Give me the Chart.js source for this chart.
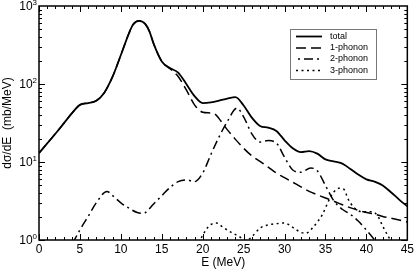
<!DOCTYPE html>
<html>
<head>
<meta charset="utf-8">
<script src="https://cdn.jsdelivr.net/npm/chart.js@4/dist/chart.umd.min.js"></script>
<style>
  body { margin: 0; background: #fff; }
</style>
</head>
<body>
<canvas id="xsChart" width="416" height="270"></canvas>
<script>
// energies (MeV) and cross sections (mb/MeV)
const totalE = [0, 1, 2, 3, 4, 5, 6, 7, 8, 9, 10, 11, 11.5, 12.25, 13, 13.5, 14, 15, 16, 17, 18, 19, 20, 21, 22, 23, 24, 25, 26, 27, 28, 29, 30, 31, 32, 33, 34, 35, 36, 37, 38, 39, 40, 41, 42, 43, 44, 45];
const totalY = [13, 17.3, 23, 31, 42, 54, 57, 61, 78, 125, 235, 450, 580, 645, 585, 470, 330, 195, 160, 140, 100, 70, 57, 58, 61, 65, 68, 53, 37, 29, 27.5, 25, 19, 15, 13.4, 13.8, 12.8, 10.8, 10.2, 9.6, 8.2, 6.9, 6.0, 5.6, 5.0, 4.1, 3.3, 2.7];

const onePhE = [0, 1, 2, 3, 4, 5, 6, 7, 8, 9, 10, 11, 11.5, 12.25, 13, 13.5, 14, 15, 16, 17, 18, 19, 20, 21, 21.5, 22, 23, 24, 25, 26, 27, 28, 29, 30, 31, 32, 33, 34, 35, 36, 37, 38, 39, 40, 41, 42, 43, 44, 45];
const onePhY = [13, 17.3, 23, 31, 42, 54, 57, 61, 78, 125, 235, 450, 580, 645, 585, 470, 330, 195, 157, 125, 84, 54, 43.5, 42.5, 41, 36, 26, 19.5, 15, 12, 10.2, 8.6, 7.2, 6.3, 5.5, 4.8, 4.2, 3.8, 3.45, 3.15, 2.85, 2.6, 2.4, 2.25, 2.15, 2.0, 1.9, 1.8, 1.7];

const twoPhE = [4.1, 5, 6, 7, 8.3, 9, 10, 11, 12, 12.7, 13, 14, 15, 16, 17, 18, 19, 20, 21, 22, 23, 24.2, 25, 26, 27, 28, 29, 30, 31, 32, 33.2, 34, 35, 36, 37, 38, 39, 40, 41, 41.5];
const twoPhY = [0.9, 1.35, 2.0, 3.0, 4.2, 3.7, 3.0, 2.55, 2.25, 2.2, 2.25, 2.9, 3.7, 4.7, 5.6, 5.9, 5.6, 7.2, 12.5, 21, 33, 49, 38, 23, 18, 18.8, 17.5, 11.5, 7.9, 7.4, 8.4, 7.7, 5.0, 3.2, 2.5, 2.15, 1.75, 1.34, 1.0, 0.85];

const threePhE = [19.5, 20, 20.5, 21, 21.7, 22.5, 23.5, 24.5, 25.3, 26, 27, 28, 29, 30, 31, 32, 32.6, 33.4, 34, 34.6, 35.4, 36, 36.6, 37.2, 37.8, 38.5, 39.5, 40.5, 41.3, 42, 42.7, 43.2];
const threePhY = [0.92, 1.15, 1.4, 1.58, 1.65, 1.45, 1.25, 1.1, 0.98, 1.1, 1.42, 1.56, 1.62, 1.65, 1.45, 1.25, 1.22, 1.42, 1.7, 2.1, 3.2, 4.1, 4.6, 4.5, 3.3, 2.6, 2.3, 2.3, 2.1, 1.5, 1.1, 0.9];

const seriesNames = ['total', '1-phonon', '2-phonon', '3-phonon'];
const yTickValues = [1, 10, 100, 1000];
const yTickExps = ['0', '1', '2', '3'];

const FONT = "'Liberation Sans', Arial, Helvetica, sans-serif";

const pts = (xs, ys) => xs.map((x, i) => ({ x: x, y: ys[i] }));

const lineDefaults = {
  borderColor: '#000',
  pointRadius: 0,
  cubicInterpolationMode: 'monotone',
  fill: false,
  clip: 0,
};

// frame, inward ticks, y labels with superscripts and the boxed legend
const framePlugin = {
  id: 'frameAndLegend',
  afterDraw(chart) {
    const { ctx, chartArea: a, scales } = chart;
    const x = scales.x, y = scales.y;
    ctx.save();
    ctx.strokeStyle = '#000';
    ctx.lineWidth = 1;
    ctx.beginPath();
    for (let e = 0; e <= 45; e++) {
      const px = Math.round(x.getPixelForValue(e)) + 0.5;
      const len = e % 5 === 0 ? 6 : 3;
      ctx.moveTo(px, a.bottom); ctx.lineTo(px, a.bottom - len);
      ctx.moveTo(px, a.top); ctx.lineTo(px, a.top + len);
    }
    for (let d = 1; d < 1000; d *= 10) {
      for (let m = 1; m <= 9; m++) {
        const py = Math.round(y.getPixelForValue(d * m)) + 0.5;
        const len = m === 1 ? 6 : 3;
        ctx.moveTo(a.left, py); ctx.lineTo(a.left + len, py);
        ctx.moveTo(a.right, py); ctx.lineTo(a.right - len, py);
      }
    }
    ctx.stroke();

    ctx.lineWidth = 1.5;
    ctx.strokeRect(a.left, a.top, a.right - a.left, a.bottom - a.top);

    // y tick labels 10^n
    ctx.fillStyle = '#000';
    ctx.textBaseline = 'middle';
    ctx.textAlign = 'right';
    yTickValues.forEach((v, i) => {
      const py = y.getPixelForValue(v);
      const rx = a.left - 2;
      ctx.font = '8px ' + FONT;
      const ew = ctx.measureText(yTickExps[i]).width;
      ctx.fillText(yTickExps[i], rx, py - 3);
      ctx.font = '12px ' + FONT;
      ctx.fillText('10', rx - ew, py + 1);
    });

    // legend
    const bx = 290.5, by = 29.5, bw = 86, bh = 50;
    ctx.lineWidth = 1;
    ctx.strokeStyle = '#777';
    ctx.strokeRect(bx, by, bw, bh);
    const rows = [36.5, 48, 59, 70.5];
    ctx.textAlign = 'left';
    ctx.font = '9px ' + FONT;
    chart.data.datasets.forEach((ds, i) => {
      ctx.strokeStyle = '#000';
      ctx.lineWidth = ds.borderWidth;
      ctx.setLineDash(ds.borderDash || []);
      ctx.lineDashOffset = ds.legendDashOffset || 0;
      ctx.beginPath();
      ctx.moveTo(296, rows[i]);
      ctx.lineTo(322, rows[i]);
      ctx.stroke();
      ctx.setLineDash([]);
      ctx.fillText(ds.label, 330, rows[i]);
    });
    ctx.restore();
  }
};

const ctx = document.getElementById('xsChart').getContext('2d');
new Chart(ctx, {
  type: 'line',
  data: {
    datasets: [
      { ...lineDefaults, label: seriesNames[0], data: pts(totalE, totalY), borderWidth: 1.8, borderDash: [] },
      { ...lineDefaults, label: seriesNames[1], data: pts(onePhE, onePhY), borderWidth: 1.5, borderDash: [10, 5] },
      { ...lineDefaults, label: seriesNames[2], data: pts(twoPhE, twoPhY), borderWidth: 1.5, borderDash: [9, 4, 2, 4], legendDashOffset: 11 },
      { ...lineDefaults, label: seriesNames[3], data: pts(threePhE, threePhY), borderWidth: 1.5, borderDash: [2, 3.5] },
    ],
  },
  options: {
    responsive: false,
    animation: false,
    parsing: true,
    layout: { padding: { top: 6, right: 8, left: 0, bottom: 0 } },
    plugins: { legend: { display: false }, tooltip: { enabled: false } },
    scales: {
      x: {
        type: 'linear',
        min: 0,
        max: 45,
        grid: { display: false, drawTicks: false },
        border: { display: false },
        ticks: {
          stepSize: 5,
          maxRotation: 0,
          autoSkip: false,
          padding: 2,
          color: '#000',
          font: { family: FONT, size: 12 },
        },
        title: {
          display: true,
          text: 'E (MeV)',
          color: '#000',
          padding: { top: 0, bottom: 0 },
          font: { family: FONT, size: 12 },
        },
        afterFit(s) { s.height = 30; },
      },
      y: {
        type: 'logarithmic',
        min: 1,
        max: 1000,
        grid: { display: false, drawTicks: false },
        border: { display: false },
        ticks: { display: false },
        title: {
          display: true,
          text: 'dσ/dE  (mb/MeV)',
          color: '#000',
          padding: { top: 0, bottom: 0 },
          font: { family: FONT, size: 12 },
        },
        afterFit(s) { s.width = 39; },
      },
    },
  },
  plugins: [framePlugin],
});
</script>
</body>
</html>
